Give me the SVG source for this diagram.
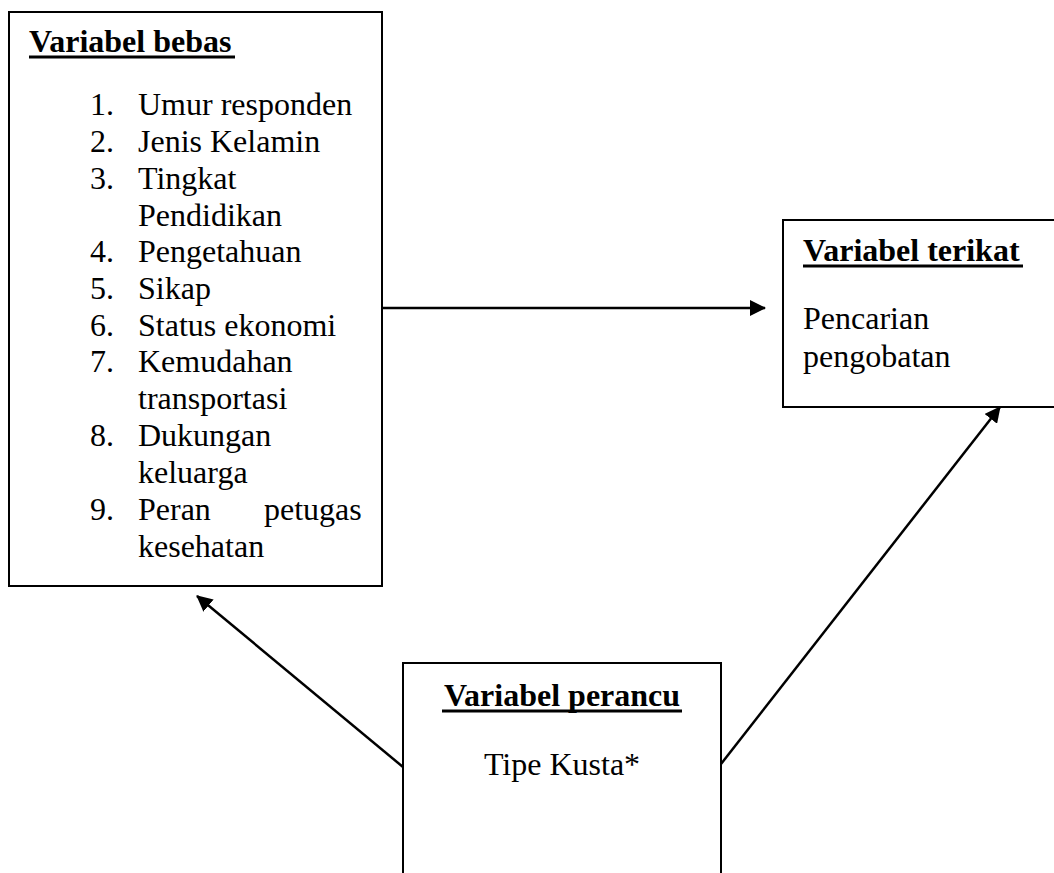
<svg xmlns="http://www.w3.org/2000/svg" width="1054" height="873" viewBox="0 0 1054 873">
  <style>
    .box { fill: #ffffff; stroke: #000000; stroke-width: 2; }
    .title { font-family: "Liberation Serif", "Times New Roman", serif; font-size: 32px; font-weight: bold; fill: #000; }
    .txt { font-family: "Liberation Serif", "Times New Roman", serif; font-size: 32px; fill: #000; }
    .ul { stroke: #000; stroke-width: 3; }
    .conn { stroke: #000; stroke-width: 2.5; fill: none; marker-end: url(#arrow); }
  </style>
  <defs>
    <marker id="arrow" markerUnits="userSpaceOnUse" markerWidth="16" markerHeight="16" refX="15" refY="8" orient="auto">
      <path d="M0,0 L16,8 L0,16 Z" fill="#000"/>
    </marker>
  </defs>
  <rect width="1054" height="873" fill="#ffffff"/>

  <!-- independent variables -->
  <g id="node-bebas">
    <rect class="box" x="9" y="12" width="373" height="574"/>
    <text class="title" x="29" y="52">Variabel bebas</text>
    <line class="ul" x1="29" y1="57" x2="235" y2="57"/>
    <g class="txt">
      <text class="txt" x="90" y="115">1.</text><text class="txt" x="138" y="115">Umur responden</text>
      <text class="txt" x="90" y="152">2.</text><text class="txt" x="138" y="152">Jenis Kelamin</text>
      <text class="txt" x="90" y="189">3.</text><text class="txt" x="138" y="189">Tingkat</text>
      <text class="txt" x="138" y="226">Pendidikan</text>
      <text class="txt" x="90" y="262">4.</text><text class="txt" x="138" y="262">Pengetahuan</text>
      <text class="txt" x="90" y="299">5.</text><text class="txt" x="138" y="299">Sikap</text>
      <text class="txt" x="90" y="336">6.</text><text class="txt" x="138" y="336">Status ekonomi</text>
      <text class="txt" x="90" y="372">7.</text><text class="txt" x="138" y="372">Kemudahan</text>
      <text class="txt" x="138" y="409">transportasi</text>
      <text class="txt" x="90" y="446">8.</text><text class="txt" x="138" y="446">Dukungan</text>
      <text class="txt" x="138" y="483">keluarga</text>
      <text class="txt" x="90" y="520">9.</text><text class="txt" x="138" y="520">Peran</text><text class="txt" x="264" y="520">petugas</text>
      <text class="txt" x="138" y="557">kesehatan</text>
    </g>
  </g>

  <!-- dependent variable -->
  <g id="node-terikat">
    <rect class="box" x="783" y="220" width="290" height="187"/>
    <text class="title" x="803" y="261">Variabel terikat</text>
    <line class="ul" x1="803" y1="266" x2="1023" y2="266"/>
    <text class="txt" x="803" y="329">Pencarian</text>
    <text class="txt" x="803" y="367">pengobatan</text>
  </g>

  <!-- confounding variable -->
  <g id="node-perancu">
    <rect class="box" x="403" y="663" width="318" height="230"/>
    <text class="title" x="562" y="706" text-anchor="middle">Variabel perancu</text>
    <line class="ul" x1="442" y1="711" x2="682" y2="711"/>
    <text class="txt" x="562" y="775" text-anchor="middle">Tipe Kusta*</text>
  </g>

  <!-- connectors -->
  <g id="connectors">
    <line class="conn" x1="382" y1="308" x2="765" y2="308"/>
    <line class="conn" x1="403" y1="767" x2="197" y2="596"/>
    <line class="conn" x1="721" y1="764" x2="1000" y2="407"/>
  </g>
</svg>
